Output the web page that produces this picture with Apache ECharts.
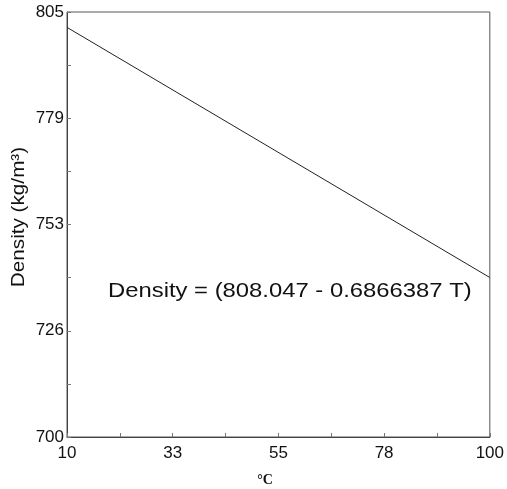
<!DOCTYPE html>
<html>
<head>
<meta charset="utf-8">
<script src="https://cdn.jsdelivr.net/npm/echarts@6/dist/echarts.min.js"></script>
<style>
  html, body { margin: 0; padding: 0; background: #fff; }
  #chart { width: 507px; height: 489px; }
</style>
</head>
<body>
<div id="chart"></div>
<script>
var temps = [10, 100];
var densities = [801.2, 739.4];

// tick positions; labels are shown rounded
var xTicks = [10, 32.5, 55, 77.5, 100];
var xMinor = [21.25, 43.75, 66.25, 88.75];
var yTicks = [700, 726.25, 752.5, 778.75, 805];
var yMinor = [713.125, 739.375, 765.625, 791.875];

var yTitle = 'Density (kg/m³)';
var xTitle = '°C';
var equationText = 'Density = (808.047 - 0.6866387 T)';

var chart = echarts.init(document.getElementById('chart'));

var font = 'Liberation Sans, Arial, sans-serif';
var axisColor = '#444';

var option = {
    animation: false,
    backgroundColor: '#fff',
    grid: {
        left: 67,
        right: 14,
        top: 12,
        bottom: 52,
        show: true,
        borderColor: '#555',
        borderWidth: 1
    },
    xAxis: {
        type: 'value',
        min: 10,
        max: 100,
        axisLine: { show: true, onZero: false, lineStyle: { color: axisColor, width: 1 } },
        axisTick: {
            show: true,
            inside: true,
            length: 4,
            customValues: xTicks.concat(xMinor),
            lineStyle: { color: '#777' }
        },
        axisLabel: {
            customValues: xTicks,
            color: '#111',
            fontFamily: font,
            fontSize: 17,
            margin: 8,
            formatter: function (v) { return Math.round(v); }
        },
        splitLine: { show: false }
    },
    yAxis: {
        type: 'value',
        min: 700,
        max: 805,
        axisLine: { show: true, onZero: false, lineStyle: { color: axisColor, width: 1 } },
        axisTick: {
            show: true,
            inside: true,
            length: 4,
            customValues: yTicks.concat(yMinor),
            lineStyle: { color: '#777' }
        },
        axisLabel: {
            customValues: yTicks,
            color: '#111',
            fontFamily: font,
            fontSize: 17,
            margin: 3,
            formatter: function (v) { return Math.round(v); }
        },
        splitLine: { show: false }
    },
    graphic: [
        {
            // y title, text in the reference is slightly stretched
            type: 'text',
            x: 19.5,
            y: 217,
            rotation: Math.PI / 2,
            scaleX: 1.15,
            style: {
                text: yTitle,
                fill: '#111',
                font: '18px ' + font,
                align: 'center',
                verticalAlign: 'middle'
            }
        },
        {
            type: 'text',
            x: 108,
            y: 291,
            scaleX: 1.135,
            style: {
                text: equationText,
                fill: '#111',
                font: '21px ' + font,
                align: 'left',
                verticalAlign: 'middle'
            }
        },
        {
            type: 'text',
            x: 265,
            y: 480,
            style: {
                text: xTitle,
                fill: '#111',
                font: 'bold 14px Liberation Serif, Times New Roman, serif',
                align: 'center',
                verticalAlign: 'middle'
            }
        }
    ],
    series: [
        {
            type: 'line',
            data: temps.map(function (t, i) { return [t, densities[i]]; }),
            showSymbol: false,
            lineStyle: { color: '#222', width: 1 }
        }
    ]
};

chart.setOption(option);
</script>
</body>
</html>
